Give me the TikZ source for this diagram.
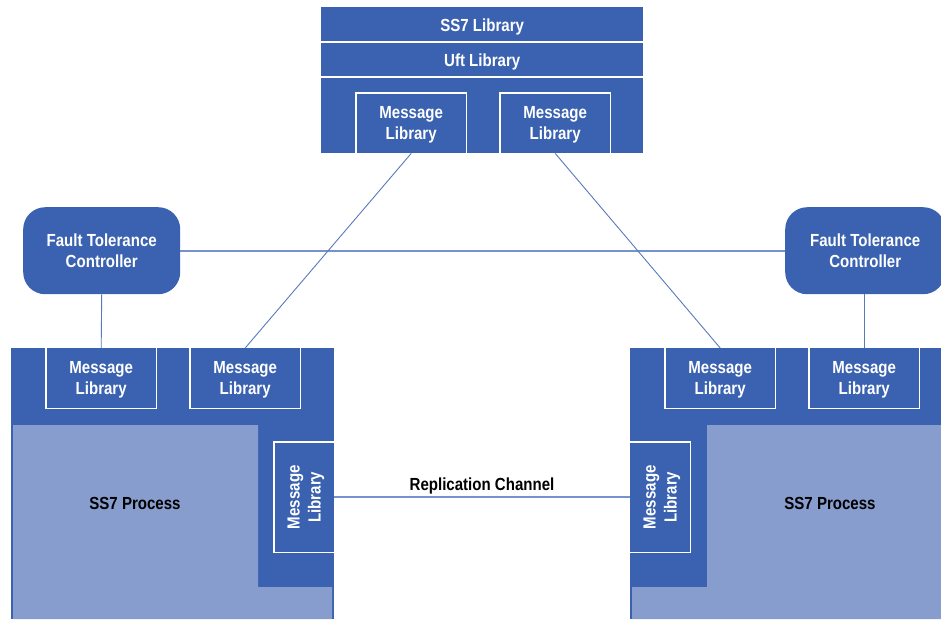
\documentclass[tikz,border=0pt]{standalone}
\usepackage{fontspec}
\setmainfont{Liberation Sans}[FakeStretch=0.86]
\definecolor{dblue}{RGB}{58,98,176}
\definecolor{lblue}{RGB}{134,157,206}
\definecolor{wire}{RGB}{118,146,206}
\begin{document}
\begin{tikzpicture}[x=1pt,y=-1pt,
  lbl/.style={font=\fontsize{17.5}{21}\selectfont\bfseries, align=center, inner sep=0pt, text depth=0pt},
  wlbl/.style={lbl, text=white},
  band/.style={wlbl, fill=dblue, minimum height=34pt, minimum width=322pt, anchor=north west},
  mlib/.style={wlbl, fill=dblue, minimum width=110pt, minimum height=60pt, anchor=north west},
  vmlib/.style={wlbl, fill=dblue, minimum width=60pt, minimum height=110pt, anchor=north west},
  edge3/.style={draw=white, line width=1.6pt},
  ftc/.style={wlbl, fill=dblue, rounded corners=22pt, minimum height=87pt, anchor=north west},
  link/.style={draw=dblue!85, line width=0.9pt},
  wide/.style={draw=wire, line width=1.6pt}]
\useasboundingbox (0,0) rectangle (941,619);

% ---- shared library stack at the top ----
\fill[dblue] (321,7) rectangle (643,153);
\node[band, fill=none] (ss7) at (321,7) {\raisebox{-1.5pt}{SS7 Library}};
\node[band, fill=none, minimum height=33pt] (uft) at (321,43) {Uft Library};
\draw[white, line width=1.6pt] (321,42) -- (643,42) (321,77) -- (643,77);
\node[mlib] (tml) at (356,93) {Message\\Library};
\node[mlib] (tmr) at (500,93) {Message\\Library};
\draw[edge3] (tml.south west) |- (tml.north east) -- (tml.south east);
\draw[edge3] (tmr.south west) |- (tmr.north east) -- (tmr.south east);

% ---- left process ----
\fill[dblue] (11,348) rectangle (334,619);
\fill[lblue] (13,425) -- (258,425) -- (258,587) -- (332,587) -- (332,619) -- (13,619) -- cycle;
\node[mlib] (lm1) at (46,348) {Message\\Library};
\node[mlib] (lm2) at (190,348) {Message\\Library};
\draw[edge3] (lm1.north west) |- (lm1.south east) -- (lm1.north east);
\draw[edge3] (lm2.north west) |- (lm2.south east) -- (lm2.north east);
\node[vmlib] (lv) at (274,442) {};
\node[wlbl, rotate=90] at (lv.center) {Message\\Library};
\draw[edge3] (lv.north east) -| (lv.south west) -- (lv.south east);
\node[lbl] (lproc) at (135,503) {SS7 Process};

% ---- right process ----
\fill[dblue] (630,348) rectangle (941,619);
\fill[lblue] (707,425) -- (941,425) -- (941,619) -- (632,619) -- (632,587) -- (707,587) -- cycle;
\node[mlib] (rm1) at (665,348) {Message\\Library};
\node[mlib] (rm2) at (809,348) {Message\\Library};
\draw[edge3] (rm1.north west) |- (rm1.south east) -- (rm1.north east);
\draw[edge3] (rm2.north west) |- (rm2.south east) -- (rm2.north east);
\node[vmlib] (rv) at (630,442) {};
\node[wlbl, rotate=90] at (rv.center) {Message\\Library};
\draw[edge3] (rv.north west) -| (rv.south east) -- (rv.south west);
\node[lbl] (rproc) at (830,503) {SS7 Process};

% ---- fault tolerance controllers ----
\node[ftc, minimum width=157pt] (lftc) at (23,207) {Fault Tolerance\\Controller};
\node[ftc, minimum width=160pt] (rftc) at (785,207) {Fault Tolerance\\Controller};

% ---- connections ----
\draw[wide] (lftc.east) -- (rftc.west);
\draw[link] (lftc.south) -- (lm1.north);
\draw[link] (rftc.south -| rm2.north) -- (rm2.north);
\draw[link] (tml.south) -- (lm2.north);
\draw[link] (tmr.south) -- (rm1.north);
\draw[wide] (lv.east) -- (rv.west);
\node[lbl] (repl) at (482,484) {Replication Channel};
\end{tikzpicture}
\end{document}
